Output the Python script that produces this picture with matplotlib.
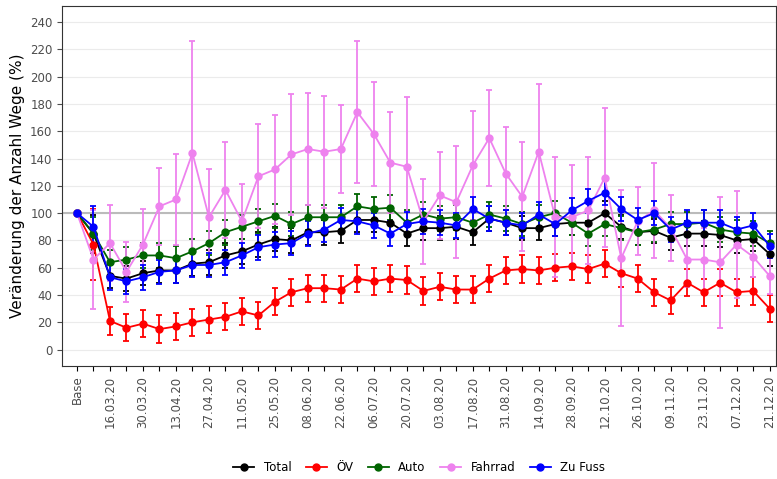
import numpy as np
import pandas as pd
import matplotlib.pyplot as plt
from matplotlib.lines import Line2D

dates = ["Base", "09.03.20"] + [d.strftime("%d.%m.%y") for d in
                                pd.date_range("2020-03-16", "2020-12-21", freq="7D")]
labels = [d if (i % 2 == 0) else "" for i, d in enumerate(dates)]

total = [100, 85, 54, 52, 56, 58, 58, 63, 64, 69, 72, 77, 81, 80, 86, 86, 87, 95, 95, 93, 85, 89, 89,
         90, 86, 96, 93, 89, 89, 92, 93, 93, 100, 90, 86, 87, 82, 85, 85, 84, 80, 81, 70]
oev = [100, 77, 21, 16, 19, 15, 17, 20, 22, 24, 28, 25, 35, 42, 45, 45, 44, 52, 50, 52, 51, 43, 46,
       44, 44, 52, 58, 59, 58, 60, 61, 59, 63, 56, 52, 42, 36, 49, 42, 49, 42, 43, 30]
auto = [100, 85, 64, 66, 69, 69, 67, 72, 78, 86, 90, 94, 98, 92, 97, 97, 97, 105, 103, 104, 93, 99, 96,
        97, 93, 99, 96, 92, 97, 100, 93, 85, 92, 89, 86, 88, 92, 92, 93, 88, 86, 85, 78]
fahrrad = [100, 66, 78, 57, 77, 105, 110, 144, 97, 117, 94, 127, 132, 143, 147, 145, 147, 174, 158,
           137, 134, 94, 113, 108, 135, 155, 129, 112, 145, 97, 97, 102, 126, 67, 94, 102, 89, 66, 66,
           64, 77, 68, 54]
fuss = [100, 90, 53, 50, 53, 57, 58, 62, 62, 64, 69, 75, 77, 78, 85, 88, 95, 94, 91, 85, 92, 94,
        93, 91, 103, 96, 93, 91, 99, 92, 102, 109, 115, 103, 95, 100, 88, 93, 93, 93, 88, 91, 76]

err_fahrrad = [0, 36, 28, 22, 26, 28, 33, 82, 35, 35, 27, 38, 40, 44, 41, 41, 32, 52, 38, 37, 51, 31,
               32, 41, 40, 35, 34, 40, 50, 44, 38, 39, 51, 50, 25, 35, 24, 20, 23, 48, 39, 15, 13]
err_oev = [0, 26] + [10] * 41
err_auto = [0, 12] + [9] * 41
err_total = [0, 14] + [9] * 41
err_fuss = [0, 15] + [9] * 41

series = [("Total", total, err_total, "black"),
          ("ÖV", oev, err_oev, "red"),
          ("Auto", auto, err_auto, "darkgreen"),
          ("Fahrrad", fahrrad, err_fahrrad, "violet"),
          ("Zu Fuss", fuss, err_fuss, "blue")]

fig, ax = plt.subplots(figsize=(7.77, 4.79), dpi=100)
fig.subplots_adjust(left=0.08, right=0.999, top=0.988, bottom=0.236)
x = np.arange(len(dates))
ax.axhline(100, color="#bbbbbb", lw=1.5, zorder=1)
handles = []
for name, vals, err, col in series:
    ax.errorbar(x, vals, yerr=err, color=col, marker="o", ms=5, lw=1.3,
                elinewidth=1.3, capsize=2, capthick=1.3, zorder=3)
    handles.append(Line2D([], [], color=col, marker="o", ms=5, lw=1.3, label=name))

ax.set_xlim(-0.9, len(dates) - 0.6)
ax.set_ylim(-12, 252)
ax.set_yticks(range(0, 241, 20))
ax.set_xticks(x)
ax.set_xticklabels(labels, rotation=90, fontsize=8.5, color="#4d4d4d")
ax.tick_params(axis="y", labelsize=8.5, colors="#4d4d4d")
ax.set_ylabel("Veränderung der Anzahl Wege (%)", fontsize=11)
ax.grid(axis="y", color="#ebebeb", lw=0.8)
ax.set_axisbelow(True)
for s in ax.spines.values():
    s.set_color("#333333")
ax.legend(handles=handles, loc="center", bbox_to_anchor=(0.5, -0.282), ncol=5, frameon=False,
          fontsize=8.5, handlelength=1.8, columnspacing=1.2)
fig.savefig("out.png")
